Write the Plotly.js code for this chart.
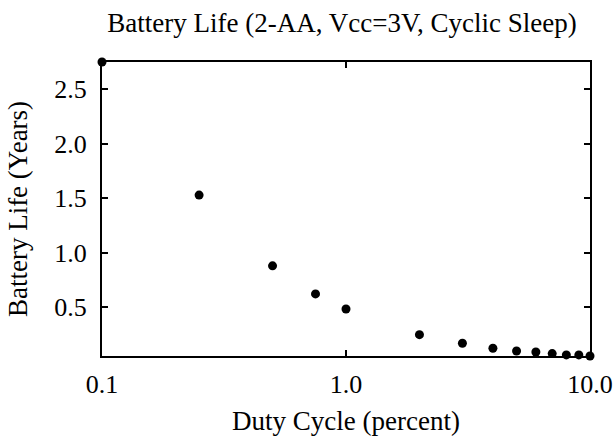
<!DOCTYPE html>
<html>
<head>
<meta charset="utf-8">
<script src="https://cdn.plot.ly/plotly-3.0.1.min.js"></script>
<style>html,body{margin:0;padding:0;background:#fff;}#chart{width:614px;height:441px;}</style>
</head>
<body>
<div id="chart"></div>
<script>
const dutyCycle = [0.1, 0.25, 0.5, 0.75, 1, 2, 3, 4, 5, 6, 7, 8, 9, 10];
const batteryLife = [2.75, 1.528, 0.878, 0.62, 0.482, 0.246, 0.167, 0.121, 0.096, 0.087, 0.072, 0.06, 0.06, 0.05];
const xTickVals = [0.1, 1, 10];
const xTickText = ['0.1', '1.0', '10.0'];
const yTickVals = [0.5, 1.0, 1.5, 2.0, 2.5];
const yTickText = ['0.5', '1.0', '1.5', '2.0', '2.5'];

const font = {family: '"Liberation Serif", "Times New Roman", serif', color: '#000'};

Plotly.newPlot('chart', [{
  x: dutyCycle, y: batteryLife, type: 'scatter', mode: 'markers',
  marker: {color: '#000', size: 9},
  cliponaxis: false, hoverinfo: 'skip'
}], {
  width: 614, height: 441,
  margin: {l: 102, r: 24, t: 62, b: 85},
  paper_bgcolor: '#fff', plot_bgcolor: '#fff',
  showlegend: false,
  font: Object.assign({size: 26}, font),
  title: {text: 'Battery Life (2-AA, Vcc=3V, Cyclic Sleep)', font: Object.assign({size: 27}, font), x: 0.557, xanchor: 'center', y: 0.95, yanchor: 'middle'},
  xaxis: {
    type: 'log', range: [-1, 1],
    tickvals: xTickVals, ticktext: xTickText,
    ticks: 'inside', ticklen: 6, tickwidth: 2, tickcolor: '#000',
    showline: true, linewidth: 2, linecolor: '#000', mirror: 'ticks',
    showgrid: false, zeroline: false,
    ticklabelstandoff: 4,
    tickfont: Object.assign({size: 26}, font),
    title: {text: 'Duty Cycle (percent)', font: Object.assign({size: 27}, font), standoff: 13}
  },
  yaxis: {
    range: [0.05, 2.75],
    tickvals: yTickVals, ticktext: yTickText,
    ticks: 'inside', ticklen: 6, tickwidth: 2, tickcolor: '#000',
    showline: true, linewidth: 2, linecolor: '#000', mirror: 'ticks',
    showgrid: false, zeroline: false,
    ticklabelstandoff: 8,
    tickfont: Object.assign({size: 26}, font),
    title: {text: 'Battery Life (Years)', font: Object.assign({size: 27}, font), standoff: 19}
  }
}, {displayModeBar: false, staticPlot: true});
</script>
</body>
</html>
